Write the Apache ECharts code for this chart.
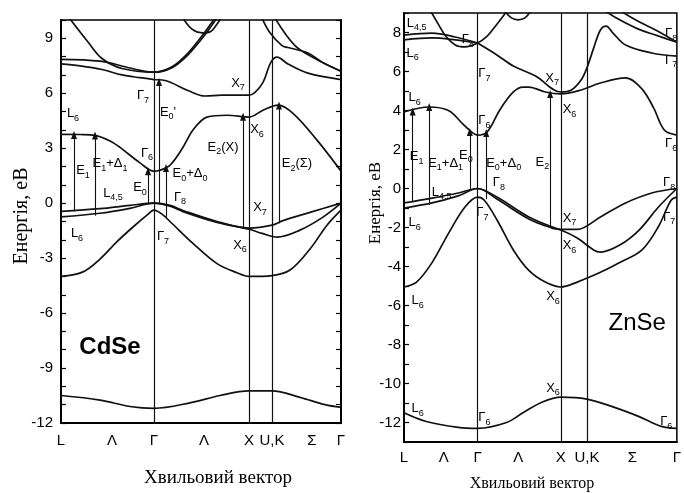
<!DOCTYPE html>
<html>
<head>
<meta charset="utf-8">
<script src="https://cdn.jsdelivr.net/npm/echarts@6/dist/echarts.min.js"></script>
<style>
  html, body { margin: 0; padding: 0; background: #fff; }
  #chart { width: 684px; height: 493px; }
</style>
</head>
<body>
<div id="chart"></div>
<script>
// ---------- CdSe (k along L–Γ–X–U,K–Γ, energy in eV) ----------
const cdseSymK = [0.93, 1.88, 2.11];
const cdseTickK = [0, 0.51, 0.93, 1.43, 1.88, 2.11, 2.51, 2.80];
const cdseTickText = ['L', 'Λ', 'Γ', 'Λ', 'X', 'U,K', 'Σ', 'Γ'];

const cdseBandS = [[0,-10.5],[0.39,-10.75],[0.69,-11.1],[0.93,-11.2],[1.29,-10.9],[1.59,-10.5],[1.88,-10.25],[2.11,-10.25],[2.39,-10.6],[2.64,-11.0],[2.80,-11.15]];
const cdseBandSO = [[0,-4.0],[0.22,-3.75],[0.39,-3.05],[0.56,-2.1],[0.72,-1.3],[0.86,-0.65],[0.93,-0.38],[1.01,-0.6],[1.09,-1.0],[1.32,-2.2],[1.56,-3.3],[1.76,-3.8],[1.88,-4.0],[2.11,-3.95],[2.29,-3.65],[2.49,-2.5],[2.66,-1.2],[2.80,-0.38]];
const cdseBandV1 = [[0,-0.45],[0.39,-0.3],[0.69,-0.12],[0.93,0],[1.09,-0.12],[1.22,-0.4],[1.56,-1.0],[1.88,-1.36],[2.11,-1.2],[2.22,-0.95],[2.49,-0.5],[2.80,0]];
const cdseBandV2 = [[0,-0.75],[0.39,-0.55],[0.69,-0.28],[0.93,0],[1.09,-0.16],[1.22,-0.46],[1.56,-1.05],[1.88,-1.42],[2.01,-1.65],[2.16,-1.85],[2.39,-1.47],[2.62,-0.76],[2.80,0]];
const cdseBandC1 = [[0,3.76],[0.19,3.75],[0.34,3.7],[0.49,3.4],[0.59,3.05],[0.79,2.2],[0.93,1.75],[0.99,1.8],[1.09,2.07],[1.22,3.05],[1.32,4.0],[1.46,4.7],[1.66,4.8],[1.88,4.7],[2.02,5.07],[2.17,5.35],[2.32,4.9],[2.56,3.44],[2.80,1.75]];
const cdseBandC2 = [[0,7.6],[0.19,7.5],[0.41,7.3],[0.61,7.0],[0.79,6.85],[0.93,6.75],[1.04,6.7],[1.27,6.15],[1.44,5.85],[1.61,5.9],[1.88,5.9],[1.94,6.05],[2.02,6.6],[2.10,7.7],[2.16,7.97],[2.27,7.6],[2.47,7.1],[2.80,6.75]];
const cdseBandC3 = [[0,7.85],[0.39,7.75],[0.64,7.45],[0.79,7.25],[0.93,7.15],[1.11,7.45],[1.27,8.2],[1.44,9.35],[1.55,10.2]];
const cdseBandC4 = [[0.07,10.2],[0.27,8.8],[0.41,7.9],[0.61,7.35],[0.93,7.15],[1.11,7.4],[1.27,8.1],[1.44,9.2],[1.57,10.2]];
const cdseBandC5 = [[1.22,10.1],[1.31,9.5],[1.41,9.3],[1.49,9.35],[1.55,9.7],[1.60,10.1]];
const cdseBandC6 = [[2.01,10.1],[2.09,9.3],[2.21,8.6],[2.27,8.5],[2.47,8.2],[2.61,7.7],[2.80,7.2]];
const cdseBandC7 = [[2.14,10.1],[2.34,8.6],[2.54,7.9],[2.80,7.2]];

// transitions: [k, from E, to E]
const cdseArrows = [[0.13,-0.45,3.72],[0.34,-0.68,3.7],[0.87,-0.03,1.75],[0.98,0,6.62],[1.05,-0.75,1.92],[1.82,-1.3,4.72],[2.18,-1.1,5.33]];

const cdseNotes = [
  [0.12,4.92,'L{s|6}'],[0.82,5.9,'Γ{s|7}'],[1.07,4.98,"E{s|0}'"],[1.77,6.56,'X{s|7}'],
  [1.96,4.0,'X{s|6}'],[1.62,3.07,'E{s|2}(X)'],[2.36,2.19,'E{s|2}(Σ)'],[0.86,2.74,'Γ{s|6}'],
  [0.22,1.81,'E{s|1}'],[0.49,2.19,'E{s|1}+Δ{s|1}'],[0.52,0.56,'L{s|4,5}'],[0.79,0.88,'E{s|0}'],
  [1.29,1.64,'E{s|0}+Δ{s|0}'],[1.19,0.34,'Γ{s|8}'],[1.99,-0.21,'X{s|7}'],[0.16,-1.63,'L{s|6}'],
  [1.02,-1.84,'Γ{s|7}'],[1.79,-2.28,'X{s|6}']
];
const cdseName = [0.49, -7.85, 'CdSe'];

// ---------- ZnSe ----------
const znseSymK = [0.76, 1.62, 1.89];
const znseTickK = [0, 0.41, 0.76, 1.18, 1.62, 1.89, 2.36, 2.82];
const znseTickText = ['L', 'Λ', 'Γ', 'Λ', 'X', 'U,K', 'Σ', 'Γ'];

const znseBandS = [[0,-11.5],[0.23,-11.95],[0.56,-12.25],[0.76,-12.3],[1.06,-12.0],[1.23,-11.5],[1.43,-10.95],[1.62,-10.7],[1.89,-10.8],[2.16,-11.2],[2.43,-11.7],[2.66,-12.2],[2.82,-12.3]];
const znseBandSO = [[0,-5.05],[0.13,-4.8],[0.29,-3.8],[0.46,-2.3],[0.63,-0.95],[0.76,-0.44],[0.83,-0.6],[0.96,-1.6],[1.13,-3.15],[1.29,-4.2],[1.46,-4.8],[1.62,-5.05],[1.79,-4.8],[2.03,-4.3],[2.23,-3.8],[2.46,-3.15],[2.63,-1.95],[2.76,-0.6],[2.82,-0.44]];
const znseBandV1 = [[0,-0.74],[0.29,-0.49],[0.56,-0.23],[0.76,0],[0.96,-0.44],[1.29,-1.46],[1.53,-1.97],[1.62,-2.1],[1.79,-2.1],[2.03,-1.46],[2.29,-0.74],[2.56,-0.23],[2.82,0]];
const znseBandV2 = [[0,-1.0],[0.29,-0.74],[0.56,-0.38],[0.76,0],[0.96,-0.54],[1.29,-1.56],[1.53,-2.03],[1.62,-2.13],[1.79,-2.54],[1.96,-3.15],[2.03,-3.26],[2.23,-2.9],[2.43,-2.13],[2.63,-0.95],[2.82,0]];
const znseBandC1 = [[0,3.92],[0.26,4.18],[0.46,4.0],[0.61,3.3],[0.71,2.85],[0.76,2.74],[0.86,2.9],[0.99,4.03],[1.13,4.95],[1.23,5.2],[1.29,5.2],[1.46,4.95],[1.62,4.85],[1.83,5.05],[2.03,5.41],[2.29,5.67],[2.46,5.1],[2.58,4.13],[2.69,3.0],[2.82,2.74]];
const znseBandC2 = [[0.76,7.46],[0.96,6.85],[1.13,6.28],[1.36,5.77],[1.62,4.95],[1.73,5.05],[1.83,5.56],[1.89,6.18],[1.96,7.2],[2.03,8.13],[2.09,8.33],[2.16,7.97],[2.29,7.36],[2.56,6.95],[2.82,6.79]];
const znseBandC3 = [[0,7.87],[0.29,7.97],[0.53,7.77],[0.76,7.46]];
const znseBandC3b = [[0,7.62],[0.29,7.72],[0.53,7.62],[0.76,7.46]];
const znseBandC4 = [[0.27,9.15],[0.36,8.38],[0.43,7.82],[0.53,7.36],[0.63,7.26],[0.76,7.46],[0.86,7.82],[0.93,8.23],[1.01,8.74],[1.07,9.15]];
const znseBandC5 = [[1.04,9.1],[1.11,8.75],[1.18,8.65],[1.25,8.75],[1.31,9.1]];
const znseBandC6 = [[2.08,9.1],[2.21,8.7],[2.41,8.2],[2.61,7.85],[2.82,7.5]];
const znseBandC7 = [[2.24,9.1],[2.41,8.6],[2.61,8.1],[2.82,7.5]];

const znseArrows = [[0.09,-0.65,3.95],[0.26,-0.85,4.18],[0.68,-0.05,2.9],[0.85,-0.55,2.85],[1.51,-1.95,4.85]];

const znseNotes = [
  [0.13,8.49,'L{s|4,5}'],[0.66,7.62,'Γ{s|8}'],[0.09,6.95,'L{s|6}'],[0.83,5.92,'Γ{s|7}'],
  [0.11,4.69,'L{s|6}'],[0.83,3.51,'Γ{s|6}'],[1.53,5.67,'X{s|7}'],[1.71,4.03,'X{s|6}'],
  [1.43,1.36,'E{s|2}'],[2.76,7.97,'Γ{s|8}'],[2.76,6.59,'Γ{s|7}'],[2.76,2.33,'Γ{s|6}'],
  [2.74,0.33,'Γ{s|8}'],[2.74,-1.46,'Γ{s|7}'],[0.13,1.62,'E{s|1}'],[0.43,1.31,'E{s|1}+Δ{s|1}'],
  [0.64,1.72,'E{s|0}'],[1.03,1.31,'E{s|0}+Δ{s|0}'],[0.39,-0.18,'L{s|4,5}'],[0.98,0.33,'Γ{s|8}'],
  [0.11,-1.72,'L{s|6}'],[0.81,-1.21,'Γ{s|7}'],[1.71,-1.51,'X{s|7}'],[1.71,-2.9,'X{s|6}'],
  [1.54,-5.56,'X{s|6}'],[0.14,-5.72,'L{s|6}'],[1.54,-10.23,'X{s|6}'],[0.14,-11.26,'L{s|6}'],
  [0.83,-11.72,'Γ{s|6}'],[2.71,-11.97,'Γ{s|6}']
];
const znseName = [2.41, -6.9, 'ZnSe'];

// ---------- styling helpers ----------
const INK = '#000';
const SANS = '"Liberation Sans", Arial, sans-serif';
const SERIF = '"Liberation Serif", "Times New Roman", serif';

const richSub = {
  s: { fontSize: 9, lineHeight: 9, verticalAlign: 'bottom', fontFamily: SANS, color: INK }
};

function tickFormatter(ks, texts) {
  return function (v) {
    const i = ks.findIndex(k => Math.abs(k - v) < 1e-6);
    return i >= 0 ? texts[i] : '';
  };
}

function xAxisFor(gridIndex, ks, texts, max, margin) {
  return {
    gridIndex, type: 'value', min: 0, max,
    axisLine: { show: true, onZero: false, lineStyle: { color: INK, width: 2 } },
    axisTick: { show: false },
    splitLine: { show: false },
    axisLabel: {
      customValues: ks, formatter: tickFormatter(ks, texts),
      color: INK, fontSize: 15, fontFamily: SANS, margin
    }
  };
}

function yAxisFor(gridIndex, min, max, step, position, showLabels, margin) {
  return {
    gridIndex, type: 'value', min, max, interval: 1, position,
    axisLine: { show: true, onZero: false, lineStyle: { color: INK, width: 2 } },
    axisTick: { show: true, inside: true, length: 5, lineStyle: { color: INK, width: 1.2 } },
    splitLine: { show: false },
    axisLabel: {
      show: showLabels, margin, color: INK, fontSize: 15, fontFamily: SANS,
      formatter: v => (v % step === 0 && v > min - 1 && v < max) ? String(v) : ''
    }
  };
}

function bandSeries(data, xi, yi) {
  return {
    type: 'line', xAxisIndex: xi, yAxisIndex: yi, data,
    smooth: 0.35, symbol: 'none', silent: true, clip: true,
    lineStyle: { color: '#111', width: 1.7 }
  };
}

function symLineSeries(ks, xi, yi) {
  return {
    type: 'line', xAxisIndex: xi, yAxisIndex: yi, data: [], silent: true,
    markLine: {
      silent: true, symbol: 'none', animation: false,
      label: { show: false },
      lineStyle: { color: '#111', width: 1.2, type: 'solid' },
      data: ks.map(k => ({ xAxis: k }))
    }
  };
}

function arrowSeries(arrows, xi, yi) {
  return {
    type: 'line', xAxisIndex: xi, yAxisIndex: yi, data: [], silent: true,
    markLine: {
      silent: true, symbol: ['none', 'triangle'], symbolSize: 7, animation: false,
      precision: 4,
      label: { show: false },
      itemStyle: { color: '#111' },
      lineStyle: { color: '#111', width: 1.1, type: 'solid', opacity: 1 },
      data: arrows.map(a => [
        { coord: [a[0], a[1]], symbol: 'none' },
        { coord: [a[0], a[2]], symbol: 'triangle', symbolSize: [6, 8] }
      ])
    }
  };
}

function noteSeries(notes, xi, yi) {
  return {
    type: 'scatter', xAxisIndex: xi, yAxisIndex: yi, silent: true,
    symbolSize: 0, itemStyle: { opacity: 1 },
    data: notes.map(n => ({ value: [n[0], n[1]], name: n[2] })),
    label: {
      show: true, position: 'inside', formatter: p => p.name, opacity: 1,
      color: INK, fontSize: 13, fontFamily: SANS, lineHeight: 19, rich: richSub
    }
  };
}

function nameSeries(item, xi, yi, weight) {
  return {
    type: 'scatter', xAxisIndex: xi, yAxisIndex: yi, silent: true, symbolSize: 0,
    itemStyle: { opacity: 1 },
    data: [{ value: [item[0], item[1]], name: item[2] }],
    label: {
      show: true, position: 'inside', formatter: p => p.name, opacity: 1,
      color: INK, fontSize: 24, fontWeight: weight, fontFamily: SANS
    }
  };
}

const cdseBands = [cdseBandS, cdseBandSO, cdseBandV1, cdseBandV2, cdseBandC1, cdseBandC2, cdseBandC3, cdseBandC4, cdseBandC5, cdseBandC6, cdseBandC7];
const znseBands = [znseBandS, znseBandSO, znseBandV1, znseBandV2, znseBandC1, znseBandC2, znseBandC3, znseBandC3b, znseBandC4, znseBandC5, znseBandC6, znseBandC7];

const option = {
  animation: false,
  backgroundColor: '#fff',
  grid: [
    { left: 61, top: 20, width: 280, height: 403, show: true, borderColor: INK, borderWidth: 1.5, backgroundColor: 'transparent' },
    { left: 404, top: 13, width: 282, height: 429, show: true, borderColor: INK, borderWidth: 1.5, backgroundColor: 'transparent' }
  ],
  xAxis: [
    xAxisFor(0, cdseTickK, cdseTickText, 2.80, 10),
    xAxisFor(1, znseTickK, znseTickText, 2.82, 8)
  ],
  yAxis: [
    yAxisFor(0, -12, 10, 3, 'left', true, 8),
    yAxisFor(0, -12, 10, 3, 'right', false, 8),
    yAxisFor(1, -13, 9, 2, 'left', true, 3)
  ],
  graphic: [
    { type: 'text', x: 22, y: 216, rotation: Math.PI / 2,
      style: { text: 'Енергія, еВ', font: '20px ' + SERIF, fill: INK, textAlign: 'center', textVerticalAlign: 'middle' } },
    { type: 'text', x: 376, y: 203, rotation: Math.PI / 2,
      style: { text: 'Енергія, еВ', font: '17px ' + SERIF, fill: INK, textAlign: 'center', textVerticalAlign: 'middle' } },
    { type: 'text', x: 218, y: 478,
      style: { text: 'Хвильовий вектор', font: '19px ' + SERIF, fill: INK, textAlign: 'center', textVerticalAlign: 'middle' } },
    { type: 'text', x: 532, y: 484,
      style: { text: 'Хвильовий вектор', font: '16px ' + SERIF, fill: INK, textAlign: 'center', textVerticalAlign: 'middle' } }
  ],
  series: [
    ...cdseBands.map(b => bandSeries(b, 0, 0)),
    symLineSeries(cdseSymK, 0, 0),
    arrowSeries(cdseArrows, 0, 0),
    noteSeries(cdseNotes, 0, 0),
    nameSeries(cdseName, 0, 0, 'bold'),
    ...znseBands.map(b => bandSeries(b, 1, 2)),
    symLineSeries(znseSymK, 1, 2),
    arrowSeries(znseArrows, 1, 2),
    noteSeries(znseNotes, 1, 2),
    nameSeries(znseName, 1, 2, 'normal')
  ]
};

const chart = echarts.init(document.getElementById('chart'), null, { renderer: 'canvas' });
chart.setOption(option);
</script>
</body>
</html>
